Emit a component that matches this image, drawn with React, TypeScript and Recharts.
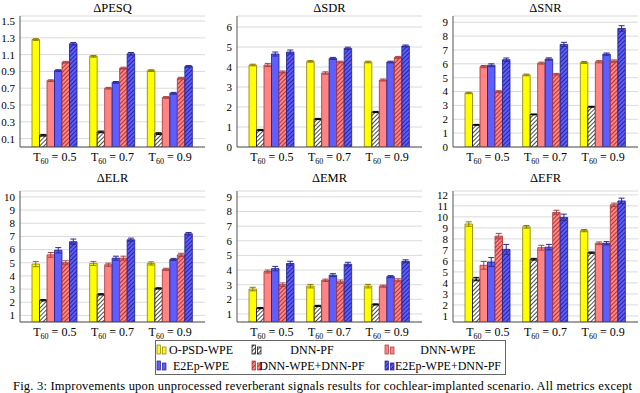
import React from 'react';
import { BarChart, Bar, XAxis, YAxis, CartesianGrid, ErrorBar } from 'recharts';

// T60 conditions on the x axis
const conditions = ['0.5', '0.7', '0.9'];

const seriesNames = [
  'O-PSD-WPE',
  'DNN-PF',
  'DNN-WPE',
  'E2Ep-WPE',
  'DNN-WPE+DNN-PF',
  'E2Ep-WPE+DNN-PF',
];

// one row per method, one value per T60
const pesqValues = [
  [1.28, 1.08, 0.91],
  [0.14, 0.18, 0.16],
  [0.79, 0.7, 0.59],
  [0.91, 0.77, 0.64],
  [1.01, 0.94, 0.82],
  [1.23, 1.11, 0.96],
];
const pesqErrors = [
  [0.01, 0.01, 0.01],
  [0.01, 0.01, 0.01],
  [0.01, 0.01, 0.01],
  [0.01, 0.01, 0.01],
  [0.01, 0.01, 0.01],
  [0.015, 0.015, 0.01],
];

const sdrValues = [
  [4.1, 4.28, 4.25],
  [0.85, 1.4, 1.75],
  [4.1, 3.7, 3.35],
  [4.65, 4.43, 4.25],
  [3.75, 4.25, 4.48],
  [4.75, 4.93, 5.05],
];
const sdrErrors = [
  [0.04, 0.04, 0.04],
  [0.03, 0.03, 0.03],
  [0.08, 0.06, 0.05],
  [0.1, 0.05, 0.04],
  [0.05, 0.04, 0.05],
  [0.1, 0.06, 0.05],
];

const snrValues = [
  [3.9, 5.2, 6.1],
  [1.6, 2.35, 2.9],
  [5.8, 6.05, 6.15],
  [5.9, 6.35, 6.7],
  [4.0, 5.25, 6.2],
  [6.3, 7.4, 8.55],
];
const snrErrors = [
  [0.05, 0.06, 0.07],
  [0.03, 0.03, 0.03],
  [0.08, 0.07, 0.08],
  [0.1, 0.08, 0.08],
  [0.06, 0.06, 0.08],
  [0.12, 0.15, 0.2],
];

const elrValues = [
  [4.9, 4.95, 4.95],
  [2.15, 2.6, 3.05],
  [5.6, 4.85, 4.5],
  [5.95, 5.35, 5.25],
  [5.0, 5.35, 5.6],
  [6.6, 6.75, 7.2],
];
const elrErrors = [
  [0.2, 0.15, 0.12],
  [0.05, 0.05, 0.05],
  [0.18, 0.12, 0.08],
  [0.2, 0.15, 0.08],
  [0.15, 0.15, 0.12],
  [0.2, 0.12, 0.1],
];

const emrValues = [
  [2.7, 2.9, 2.9],
  [1.4, 1.55, 1.65],
  [3.9, 3.3, 2.9],
  [4.1, 3.65, 3.55],
  [3.0, 3.2, 3.3],
  [4.45, 4.4, 4.6],
];
const emrErrors = [
  [0.12, 0.12, 0.12],
  [0.04, 0.04, 0.04],
  [0.1, 0.08, 0.07],
  [0.15, 0.1, 0.07],
  [0.12, 0.12, 0.1],
  [0.15, 0.13, 0.1],
];

const efrValues = [
  [9.35, 9.1, 8.75],
  [4.35, 6.15, 6.75],
  [5.6, 7.2, 7.6],
  [5.9, 7.25, 7.6],
  [8.25, 10.4, 11.1],
  [7.05, 9.95, 11.45],
];
const efrErrors = [
  [0.2, 0.12, 0.1],
  [0.15, 0.08, 0.06],
  [0.35, 0.22, 0.12],
  [0.4, 0.25, 0.15],
  [0.25, 0.2, 0.15],
  [0.45, 0.3, 0.25],
];

const pesqTicks = [0.1, 0.3, 0.5, 0.7, 0.9, 1.1, 1.3, 1.5];
const sdrTicks = [0, 1, 2, 3, 4, 5, 6];
const snrTicks = [0, 1, 2, 3, 4, 5, 6, 7, 8, 9];
const elrTicks = [1, 2, 3, 4, 5, 6, 7, 8, 9, 10];
const emrTicks = [1, 2, 3, 4, 5, 6, 7, 8, 9];
const efrTicks = [1, 2, 3, 4, 5, 6, 7, 8, 9, 10, 11, 12];

const SERIF = "'Liberation Serif', 'Times New Roman', serif";
const FRAME = '#555';

const fills = ['#ffff00', 'url(#hatch-k)', '#ff8585', '#5e5eff', 'url(#hatch-r)', 'url(#hatch-b)'];
const strokes = ['#8a7a00', '#000', '#a83030', '#1c1c8a', '#a83030', '#1c1c8a'];
const errColors = ['#8a7a00', '#000', '#a84040', '#2a2a90', '#a84040', '#2a2a90'];

const buildRows = (values: number[][], errors: number[][]) =>
  conditions.map((c, i) => {
    const row: Record<string, number | string> = { cond: c };
    values.forEach((v, s) => {
      row['v' + s] = v[i];
      row['e' + s] = errors[s][i];
    });
    return row;
  });

const panels = [
  { title: 'ΔPESQ', values: pesqValues, errors: pesqErrors, ticks: pesqTicks, domain: [0, 1.56], dec: 1, left: 20, top: 16, width: 185 },
  { title: 'ΔSDR', values: sdrValues, errors: sdrErrors, ticks: sdrTicks, domain: [0, 6.55], dec: 0, left: 237, top: 16, width: 185 },
  { title: 'ΔSNR', values: snrValues, errors: snrErrors, ticks: snrTicks, domain: [0, 9.45], dec: 0, left: 453, top: 16, width: 185 },
  { title: 'ΔELR', values: elrValues, errors: elrErrors, ticks: elrTicks, domain: [0.5, 10.45], dec: 0, left: 20, top: 191, width: 185 },
  { title: 'ΔEMR', values: emrValues, errors: emrErrors, ticks: emrTicks, domain: [0.45, 9.4], dec: 0, left: 237, top: 191, width: 185 },
  { title: 'ΔEFR', values: efrValues, errors: efrErrors, ticks: efrTicks, domain: [0.45, 12.35], dec: 0, left: 453, top: 191, width: 185 },
];

const FH = 131; // plot frame height
const YW = 40;
const XH = 24;
const MT = 2;
const MR = 2;

const T60Tick = (props: any) => {
  const { x, y, payload } = props;
  return (
    <text x={x} y={y + 14} textAnchor="middle" fontFamily={SERIF} fontSize={12} fill="#000">
      T
      <tspan fontSize={8} dy={3}>60</tspan>
      <tspan dy={-3}> = {payload.value}</tspan>
    </text>
  );
};

const Panel = ({ p }: { p: (typeof panels)[number] }) => {
  const rows = buildRows(p.values, p.errors);
  return (
    <div style={{ position: 'absolute', left: p.left - YW, top: p.top - MT }}>
      <BarChart
        width={YW + p.width + MR}
        height={MT + FH + XH}
        data={rows}
        margin={{ top: MT, right: MR, bottom: 0, left: 0 }}
        barGap={0}
        barSize={7.5}
      >
        <CartesianGrid vertical={false} stroke="#dadada" />
        <XAxis
          dataKey="cond"
          height={XH}
          padding={{ left: 6, right: 6 }}
          axisLine={{ stroke: FRAME }}
          tickLine={false}
          tickSize={0}
          tickMargin={0}
          interval={0}
          tick={<T60Tick />}
        />
        <XAxis xAxisId="top" dataKey="cond" orientation="top" height={0} tick={false} tickLine={false} axisLine={{ stroke: FRAME }} />
        <YAxis
          type="number"
          domain={p.domain}
          allowDataOverflow
          ticks={p.ticks}
          interval={0}
          width={YW}
          axisLine={{ stroke: FRAME }}
          tickLine={false}
          tickSize={0}
          tickMargin={5}
          tick={{ fontSize: 11, fill: '#000', fontFamily: SERIF }}
          tickFormatter={(v: number) => v.toFixed(p.dec)}
        />
        <YAxis yAxisId="right" orientation="right" width={0} tick={false} tickLine={false} axisLine={{ stroke: FRAME }} />
        {seriesNames.map((n, s) => (
          <Bar key={n} dataKey={'v' + s} name={n} fill={fills[s]} stroke={strokes[s]} strokeWidth={0.8} isAnimationActive={false}>
            <ErrorBar dataKey={'e' + s} width={3} stroke={errColors[s]} strokeWidth={1} direction="y" />
          </Bar>
        ))}
      </BarChart>
    </div>
  );
};

// legend layout (pgfplots style, 3 columns x 2 rows)
const legendSwatchX = [157, 252, 385];
const legendTextX = [201, 312, 448];
const legendRowY = [354, 370];

const Overlay = () => (
  <svg width={640} height={393} style={{ position: 'absolute', left: 0, top: 0, pointerEvents: 'none' }}>
    <defs>
      <pattern id="hatch-k" patternUnits="userSpaceOnUse" width={3} height={3} patternTransform="rotate(45)">
        <rect width={3} height={3} fill="#fff" />
        <line x1={0} y1={0} x2={0} y2={3} stroke="#000" strokeWidth={1.4} />
      </pattern>
      <pattern id="hatch-r" patternUnits="userSpaceOnUse" width={3} height={3} patternTransform="rotate(45)">
        <rect width={3} height={3} fill="#ff8585" />
        <line x1={0} y1={0} x2={0} y2={3} stroke="#7a0000" strokeWidth={1.2} />
      </pattern>
      <pattern id="hatch-b" patternUnits="userSpaceOnUse" width={3} height={3} patternTransform="rotate(45)">
        <rect width={3} height={3} fill="#5e5eff" />
        <line x1={0} y1={0} x2={0} y2={3} stroke="#000050" strokeWidth={1.2} />
      </pattern>
    </defs>
    {panels.map((p) => (
      <text
        key={p.title}
        x={p.left + p.width / 2}
        y={Math.max(p.top - 9, 12)}
        textAnchor="middle"
        fontFamily={SERIF}
        fontSize={12.5}
        fill="#000"
      >
        {p.title}
      </text>
    ))}
    <rect x={155.5} y={340.5} width={350} height={34} fill="#fff" stroke="#666" strokeWidth={1} />
    {seriesNames.map((n, s) => {
      const col = s % 3;
      const row = Math.floor(s / 3);
      const by = legendRowY[row];
      const sx = legendSwatchX[col];
      return (
        <g key={n}>
          <rect x={sx} y={by - 9} width={3.5} height={9} fill={fills[s]} stroke={strokes[s]} strokeWidth={0.7} />
          <rect x={sx + 5.5} y={by - 7} width={3.5} height={7} fill={fills[s]} stroke={strokes[s]} strokeWidth={0.7} />
          <text x={legendTextX[col]} y={by} textAnchor="middle" fontFamily={SERIF} fontSize={12} fill="#000">
            {n}
          </text>
        </g>
      );
    })}
    <text x={13} y={389.5} fontFamily={SERIF} fontSize={12.5} fill="#000" textLength={619} lengthAdjust="spacing">
      Fig. 3: Improvements upon unprocessed reverberant signals results for cochlear-implanted scenario. All metrics except
    </text>
  </svg>
);

export default function App() {
  return (
    <div style={{ position: 'absolute', left: 0, top: 0, width: 640, height: 393, overflow: 'hidden', background: '#fff' }}>
      {panels.map((p) => (
        <Panel key={p.title} p={p} />
      ))}
      <Overlay />
    </div>
  );
}
